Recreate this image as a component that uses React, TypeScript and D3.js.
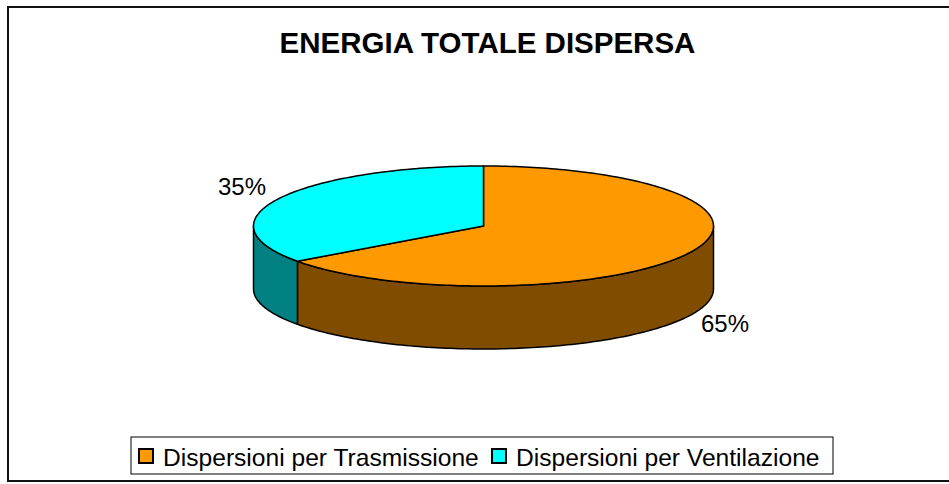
import { useEffect, useRef } from "react";
import * as d3 from "d3";

// Dati del grafico
const categories = ["Dispersioni per Trasmissione", "Dispersioni per Ventilazione"];
const values = [65, 35];
const labels = ["65%", "35%"];
const topColors = ["#ff9900", "#00ffff"];
const sideColors = ["#7f4c00", "#008080"];

const W = 949;
const H = 484;

export default function App() {
  const svgRef = useRef<SVGSVGElement>(null);

  useEffect(() => {
    if (!svgRef.current) return;
    const svg = d3.select(svgRef.current);
    svg.selectAll("*").remove();

    const font = "'Liberation Sans', Arial, sans-serif";

    // Cornice
    svg
      .append("rect")
      .attr("x", 8)
      .attr("y", 7)
      .attr("width", 960)
      .attr("height", 474)
      .attr("fill", "#fff")
      .attr("stroke", "#111")
      .attr("stroke-width", 2);

    // Titolo
    svg
      .append("text")
      .attr("x", 487.5)
      .attr("y", 53)
      .attr("text-anchor", "middle")
      .style("font-family", font)
      .style("font-weight", "bold")
      .style("font-size", "29.5px")
      .text("ENERGIA TOTALE DISPERSA");

    // Geometria della torta 3D
    const cx = 483.5;
    const cy = 226;
    const rx = 230;
    const ry = 60;
    const depth = 63;

    const pie = d3.pie<number>().sort(null);
    const arcs = pie(values);

    const pt = (a: number, dy = 0): [number, number] => [
      cx + rx * Math.sin(a),
      cy - ry * Math.cos(a) + dy
    ];
    const sample = (a0: number, a1: number, dy = 0) => {
      const n = Math.max(2, Math.ceil(Math.abs(a1 - a0) / 0.02));
      return d3.range(n + 1).map((i) => pt(a0 + ((a1 - a0) * i) / n, dy));
    };
    const line = d3.line();

    // Pareti laterali (solo la metà frontale)
    arcs.forEach((d, i) => {
      const a0 = Math.max(d.startAngle, Math.PI / 2);
      const a1 = Math.min(d.endAngle, (3 * Math.PI) / 2);
      if (a1 <= a0) return;
      const pts = [...sample(a0, a1), ...sample(a1, a0, depth)];
      svg
        .append("path")
        .attr("d", line(pts) + "Z")
        .attr("fill", sideColors[i])
        .attr("stroke", "#000")
        .attr("stroke-width", 1.5)
        .attr("stroke-linejoin", "round");
    });

    // Superfici superiori
    arcs.forEach((d, i) => {
      const pts: [number, number][] = [[cx, cy], ...sample(d.startAngle, d.endAngle)];
      svg
        .append("path")
        .attr("d", line(pts) + "Z")
        .attr("fill", topColors[i])
        .attr("stroke", "#000")
        .attr("stroke-width", 1.5)
        .attr("stroke-linejoin", "round");
    });

    // Etichette percentuali
    arcs.forEach((d, i) => {
      const mid = (d.startAngle + d.endAngle) / 2;
      const front = Math.cos(mid) < 0;
      const lx = cx + (rx + 41) * Math.sin(mid);
      const ly = cy - (ry + (front ? 17 : 26)) * Math.cos(mid) + (front ? depth : 0);
      svg
        .append("text")
        .attr("x", lx)
        .attr("y", ly + 8)
        .attr("text-anchor", "middle")
        .style("font-family", font)
        .style("font-size", "24px")
        .text(labels[i]);
    });

    // Legenda
    const legend = svg.append("g");
    legend
      .append("rect")
      .attr("x", 131)
      .attr("y", 437)
      .attr("width", 702)
      .attr("height", 37)
      .attr("fill", "#fff")
      .attr("stroke", "#000")
      .attr("stroke-width", 1);

    const itemX = [139, 492];
    categories.forEach((c, i) => {
      legend
        .append("rect")
        .attr("x", itemX[i])
        .attr("y", 449)
        .attr("width", 14)
        .attr("height", 14)
        .attr("fill", topColors[i])
        .attr("stroke", "#000")
        .attr("stroke-width", 2);
      legend
        .append("text")
        .attr("x", itemX[i] + 24)
        .attr("y", 466)
        .style("font-family", font)
        .style("font-size", "24.6px")
        .text(c);
    });
  }, []);

  return (
    <svg
      ref={svgRef}
      width={W}
      height={H}
      style={{ position: "absolute", left: 0, top: 0, background: "#fff" }}
    />
  );
}
